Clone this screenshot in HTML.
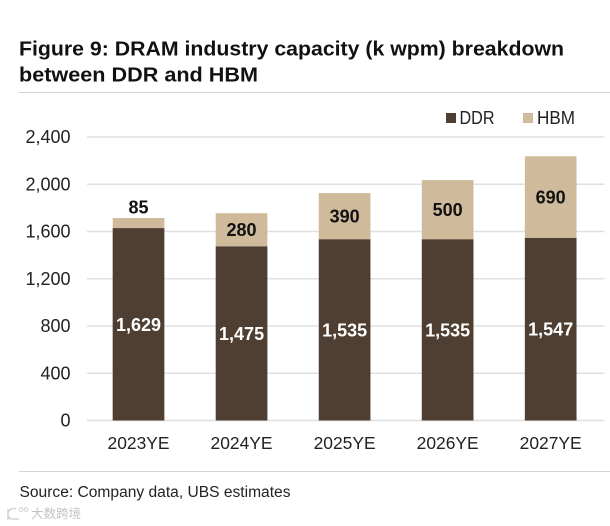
<!DOCTYPE html>
<html>
<head>
<meta charset="utf-8">
<style>
html,body{margin:0;padding:0;background:#fff;}
svg{display:block;}
text{font-family:"Liberation Sans","Noto Sans CJK SC",sans-serif;}
</style>
</head>
<body>
<svg id="chart" width="610" height="526" viewBox="0 0 610 526" xmlns="http://www.w3.org/2000/svg">
  <rect width="610" height="526" fill="#fff"/>
  <text x="19" y="55.5" font-size="20.5" font-weight="700" fill="#111" textLength="545" lengthAdjust="spacingAndGlyphs">Figure 9: DRAM industry capacity (k wpm) breakdown</text>
  <text x="19" y="81.5" font-size="20.5" font-weight="700" fill="#111" textLength="239" lengthAdjust="spacingAndGlyphs">between DDR and HBM</text>
  <line x1="19" x2="610" y1="92.5" y2="92.5" stroke="#d4d4d4" stroke-width="1"/>
  <rect x="446" y="113" width="10" height="10" fill="#4f3f33"/>
  <text x="459.5" y="124" font-size="18" fill="#222" textLength="35" lengthAdjust="spacingAndGlyphs">DDR</text>
  <rect x="523" y="113" width="10" height="10" fill="#cfbb9b"/>
  <text x="537" y="124" font-size="18" fill="#222" textLength="38" lengthAdjust="spacingAndGlyphs">HBM</text>
  <g id="plot"></g>
  <line x1="19" x2="610" y1="471.5" y2="471.5" stroke="#d4d4d4" stroke-width="1"/>
  <text x="19.5" y="497" font-size="15.5" fill="#222" textLength="271" lengthAdjust="spacingAndGlyphs">Source: Company data, UBS estimates</text>
  <text x="31" y="518" font-size="12.5" fill="#c4c4c4">大数跨境</text>
  <path d="M8 509 V520 M16 509 A5.5 5.5 0 0 0 11 519 H19" fill="none" stroke="#cfcfcf" stroke-width="1.3"/>
  <circle cx="21" cy="509.5" r="1.8" fill="none" stroke="#cfcfcf" stroke-width="1"/>
  <circle cx="26" cy="509.5" r="1.8" fill="none" stroke="#cfcfcf" stroke-width="1"/>
</svg>
<script>
const categories = ["2023YE", "2024YE", "2025YE", "2026YE", "2027YE"];
const ddrValues = [1629, 1475, 1535, 1535, 1547];
const hbmValues = [85, 280, 390, 500, 690];
const yTicks = [0, 400, 800, 1200, 1600, 2000, 2400];

const plot = document.getElementById('plot');
const NS = 'http://www.w3.org/2000/svg';
const xLeft = 87, xRight = 602.2, yBase = 420.5, yTop = 137, yMax = 2400, barWidth = 51.7;
const yScale = v => yBase - (v / yMax) * (yBase - yTop);
const band = (xRight - xLeft) / categories.length;
const xCenter = i => xLeft + band * (i + 0.5);
const fmt = v => v.toLocaleString('en-US');

function make(tag, attrs, text) {
  const el = document.createElementNS(NS, tag);
  for (const k in attrs) el.setAttribute(k, attrs[k]);
  if (text !== undefined) el.textContent = text;
  plot.appendChild(el);
  return el;
}

yTicks.forEach(t => {
  const y = yScale(t);
  const line = make('line', {x1: xLeft, x2: 604.5, y1: y, y2: y, stroke: '#e0e0e0', 'stroke-width': 1.4});
  
  
  const label = make('text', {x: 70.5, y: y + 6, 'text-anchor': 'end', 'font-size': 18, fill: '#222'}, fmt(t));
  
  
});

categories.forEach((c, i) => {
  const cx = xCenter(i);
  const x = cx - barWidth / 2;
  const ddrTop = yScale(ddrValues[i]);
  const hbmTop = yScale(ddrValues[i] + hbmValues[i]);

  const ddrBar = make('rect', {x: x, y: ddrTop, width: barWidth, height: yBase - ddrTop, fill: '#4f3f33'});
  
  

  const hbmBar = make('rect', {x: x, y: hbmTop, width: barWidth, height: ddrTop - hbmTop, fill: '#cfbb9b'});
  
  

  const ddrLabel = make('text', {x: cx, y: (ddrTop + yBase) / 2 + 6.5, 'text-anchor': 'middle', 'font-size': 18, 'font-weight': 700, fill: '#fff'}, fmt(ddrValues[i]));
  
  

  const small = (ddrTop - hbmTop) < 24;
  const hbmY = small ? hbmTop - 4.5 : (hbmTop + ddrTop) / 2 + 6.5;
  const hbmLabel = make('text', {x: cx, y: hbmY, 'text-anchor': 'middle', 'font-size': 18, 'font-weight': 700, fill: '#111'}, fmt(hbmValues[i]));
  
  

  const catLabel = make('text', {x: cx, y: 449, 'text-anchor': 'middle', 'font-size': 17.5, fill: '#222', textLength: 62, lengthAdjust: 'spacingAndGlyphs'}, c);
  
  
});
</script>
</body>
</html>
